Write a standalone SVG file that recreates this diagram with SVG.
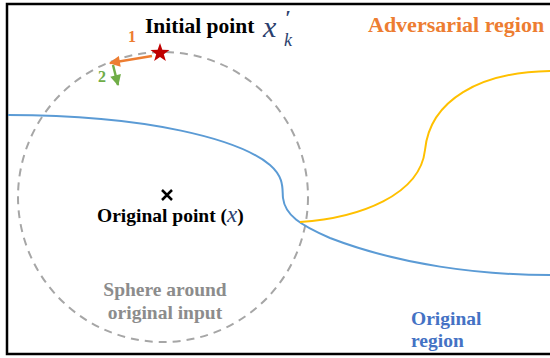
<svg xmlns="http://www.w3.org/2000/svg" width="550" height="358" viewBox="0 0 550 358">
<style>
.lbl{font-family:"Liberation Serif","Times New Roman",serif;font-weight:bold}
.math{font-family:"Liberation Serif","Times New Roman",serif;font-style:italic;fill:#2b3f6e}
</style>
<defs>
<marker id="ao" viewBox="0 0 10 10" refX="9" refY="5" markerWidth="12" markerHeight="11" markerUnits="userSpaceOnUse" orient="auto"><path d="M0,0 L10,5 L0,10 z" fill="#ED7D31"/></marker>
<marker id="ag" viewBox="0 0 10 10" refX="9" refY="5" markerWidth="12" markerHeight="11" markerUnits="userSpaceOnUse" orient="auto"><path d="M0,0 L10,5 L0,10 z" fill="#70AD47"/></marker>
</defs>
<rect width="550" height="358" fill="#fff"/>
<g id="frame" fill="none" stroke="#000" stroke-width="2.5">
<path d="M551,4 H7 V354 H551"/>
</g>
<g id="sphere">
<circle cx="163" cy="197" r="145" fill="none" stroke="#A6A6A6" stroke-width="2" stroke-dasharray="8,6"/>
<text class="lbl" x="165" y="296" font-size="19.5" fill="#8C8C8C" text-anchor="middle">Sphere around</text>
<text class="lbl" x="165" y="319" font-size="19.5" fill="#8C8C8C" text-anchor="middle">original input</text>
</g>
<g id="original-region">
<path d="M8,115 C150,115 240,140 270,165 C285,178 282,190 283,198 C285,215 300,225 330,238 C400,265 480,275 550,275" fill="none" stroke="#5B9BD5" stroke-width="2"/>
<text class="lbl" x="411" y="325" font-size="19.5" fill="#4472C4">Original</text>
<text class="lbl" x="411" y="347" font-size="19.5" fill="#4472C4">region</text>
</g>
<g id="adversarial-region">
<path d="M300,222 C360,218 420,195 425,150 C430,100 480,72 550,71" fill="none" stroke="#FFC000" stroke-width="2"/>
<text class="lbl" x="368" y="32" font-size="22" fill="#ED7D31">Adversarial region</text>
</g>
<g id="original-point">
<path d="M162,190 L172,200 M172,190 L162,200" stroke="#000" stroke-width="2.5"/>
<text class="lbl" x="97" y="222" font-size="19.5" fill="#000">Original point (<tspan class="math" font-weight="normal" font-size="23">x</tspan>)</text>
</g>
<g id="initial-point">
<polygon points="160,43 162.35,49.76 169.51,49.91 163.8,54.24 165.88,61.09 160,57 154.12,61.09 156.2,54.24 150.49,49.91 157.65,49.76" fill="#C00000"/>
<text class="lbl" x="145" y="33" font-size="21.5" fill="#000">Initial point</text>
<text class="math" x="263" y="37" font-size="30">x</text>
<text class="math" x="285" y="25" font-size="20" font-weight="bold">′</text>
<text class="math" x="284" y="46" font-size="18">k</text>
</g>
<g id="connectors" fill="none" stroke-width="2.5">
<path d="M152,56 L110,63" stroke="#ED7D31" marker-end="url(#ao)"/>
<path d="M113,65 L118,85" stroke="#70AD47" marker-end="url(#ag)"/>
</g>
<g id="step-labels">
<text class="lbl" x="132" y="42" font-size="16" fill="#ED7D31" text-anchor="middle">1</text>
<text class="lbl" x="102" y="82" font-size="16" fill="#70AD47" text-anchor="middle">2</text>
</g>
</svg>
